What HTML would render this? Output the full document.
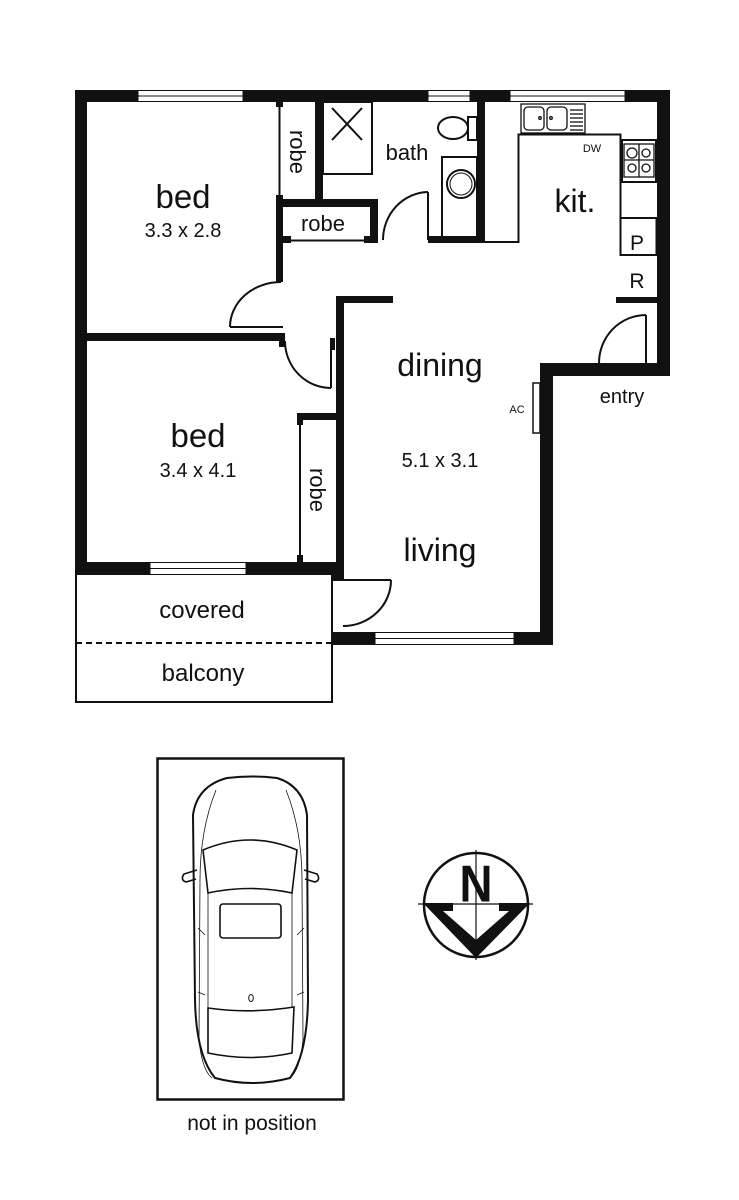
<!DOCTYPE html>
<html><head><meta charset="utf-8"><style>
html,body{margin:0;padding:0;background:#fff;}
svg{display:block;}
text{font-family:"Liberation Sans",Arial,sans-serif;fill:#111;}
</style></head><body>
<svg width="739" height="1200" viewBox="0 0 739 1200" xmlns="http://www.w3.org/2000/svg">
<g fill="#111" stroke="none">
<rect x="75" y="90" width="595" height="12"/>
<rect x="75" y="90" width="12" height="485"/>
<rect x="657" y="90" width="13" height="286"/>
<rect x="540" y="363" width="130" height="13"/>
<rect x="540" y="363" width="13" height="282"/>
<rect x="331" y="632" width="222" height="13"/>
<rect x="75" y="562" width="269" height="13"/>
<rect x="336" y="296" width="8" height="284"/>
<rect x="331" y="575" width="12" height="5"/>
<rect x="336" y="296" width="57" height="7"/>
<rect x="276" y="195" width="7" height="87"/>
<rect x="276" y="102" width="7" height="5"/>
<rect x="87" y="333" width="197" height="8"/>
<rect x="279" y="333" width="6" height="14"/>
<rect x="331" y="338" width="4" height="12"/>
<rect x="315" y="102" width="8" height="103"/>
<rect x="283" y="199" width="95" height="8"/>
<rect x="370" y="199" width="8" height="44"/>
<rect x="283" y="236" width="8" height="7"/>
<rect x="364" y="236" width="14" height="7"/>
<rect x="428" y="236" width="57" height="7"/>
<rect x="477" y="102" width="8" height="141"/>
<rect x="616" y="297" width="41" height="6"/>
<rect x="297" y="413" width="40" height="7"/>
<rect x="297" y="413" width="6" height="12"/>
<rect x="297" y="555" width="6" height="7"/>
</g>
<g fill="#fff" stroke="#111" stroke-width="1">
<rect x="138" y="90.5" width="105" height="11"/>
<rect x="428" y="90.5" width="42" height="11"/>
<rect x="510" y="90.5" width="115" height="11"/>
<rect x="150" y="562.5" width="96" height="12"/>
<rect x="375" y="632.5" width="139" height="12"/>
</g>
<g stroke="#111" stroke-width="1">
<line x1="138" y1="96" x2="243" y2="96"/>
<line x1="428" y1="96" x2="470" y2="96"/>
<line x1="510" y1="96" x2="625" y2="96"/>
<line x1="150" y1="568.5" x2="246" y2="568.5"/>
<line x1="375" y1="638.5" x2="514" y2="638.5"/>
</g>
<g fill="none" stroke="#111" stroke-width="2">
<line x1="279.5" y1="102" x2="279.5" y2="195"/>
<line x1="283" y1="240.5" x2="370" y2="240.5"/>
<line x1="300" y1="420" x2="300" y2="560"/>
<rect x="323" y="102" width="49" height="72"/>
<line x1="332" y1="108" x2="362" y2="140"/>
<line x1="362" y1="108" x2="332" y2="140"/>
<rect x="468" y="117" width="9" height="23"/>
<ellipse cx="453" cy="128" rx="15" ry="11"/>
<rect x="442" y="157" width="35" height="80"/>
<circle cx="461" cy="184" r="14"/>
<circle cx="461" cy="184" r="11" stroke-width="1"/>
<polyline points="485,242 518.5,242 518.5,134.5 620.5,134.5 620.5,218"/>
<rect x="620.5" y="218" width="36" height="37"/>
<rect x="622" y="140" width="34" height="42"/>
<line x1="428" y1="192" x2="428" y2="240"/>
<path d="M428,192 A46,48 0 0 0 383,240"/>
<line x1="230" y1="327" x2="283" y2="327"/>
<path d="M281,282 A51,45 0 0 0 230,327"/>
<line x1="331" y1="338" x2="331" y2="388"/>
<path d="M285,341 A46,47 0 0 0 331,388"/>
<line x1="646" y1="315" x2="646" y2="363"/>
<path d="M646,315 A47,48 0 0 0 599,363"/>
<line x1="332" y1="580" x2="391" y2="580"/>
<path d="M391,580 A48,46 0 0 1 343,626"/>
<polyline points="76,575 76,702 332,702 332,575"/>
<line x1="76" y1="643" x2="332" y2="643" stroke-dasharray="6,4"/>
<rect x="533" y="383" width="7" height="50" stroke-width="1.5"/>
</g>
<g fill="none" stroke="#111" stroke-width="1.3">
<rect x="521" y="104" width="64" height="29"/>
<rect x="524" y="107" width="20" height="23" rx="4"/>
<rect x="547" y="107" width="20" height="23" rx="4"/>
<circle cx="540" cy="118" r="1.3"/><circle cx="551" cy="118" r="1.3"/>
<line x1="570" y1="110" x2="583" y2="110"/><line x1="570" y1="114" x2="583" y2="114"/>
<line x1="570" y1="118" x2="583" y2="118"/><line x1="570" y1="122" x2="583" y2="122"/>
<line x1="570" y1="126" x2="583" y2="126"/><line x1="570" y1="130" x2="583" y2="130"/>
<rect x="624" y="144" width="30" height="33"/>
<circle cx="632" cy="153" r="5"/><circle cx="646" cy="153" r="4"/>
<circle cx="632" cy="168" r="4"/><circle cx="646" cy="168" r="4"/>
<line x1="624" y1="160" x2="654" y2="160"/><line x1="639" y1="144" x2="639" y2="177"/>
</g>
<text x="183" y="208" font-size="33" text-anchor="middle">bed</text>
<text x="183" y="237" font-size="20" text-anchor="middle">3.3 x 2.8</text>
<text x="198" y="447" font-size="33" text-anchor="middle">bed</text>
<text x="198" y="477" font-size="20" text-anchor="middle">3.4 x 4.1</text>
<text x="407" y="160" font-size="22" text-anchor="middle">bath</text>
<text x="323" y="231" font-size="22" text-anchor="middle">robe</text>
<text transform="translate(290,152) rotate(90)" font-size="22" text-anchor="middle">robe</text>
<text transform="translate(310,490) rotate(90)" font-size="22" text-anchor="middle">robe</text>
<text x="575" y="212" font-size="32" text-anchor="middle">kit.</text>
<text x="592" y="152" font-size="11" text-anchor="middle">DW</text>
<text x="637" y="250" font-size="21" text-anchor="middle">P</text>
<text x="637" y="288" font-size="21" text-anchor="middle">R</text>
<text x="440" y="376" font-size="32" text-anchor="middle">dining</text>
<text x="440" y="467" font-size="20" text-anchor="middle">5.1 x 3.1</text>
<text x="440" y="561" font-size="32" text-anchor="middle">living</text>
<text x="517" y="413" font-size="11" text-anchor="middle">AC</text>
<text x="622" y="403" font-size="20" text-anchor="middle">entry</text>
<text x="202" y="618" font-size="24" text-anchor="middle">covered</text>
<text x="203" y="681" font-size="24" text-anchor="middle">balcony</text>
<rect x="157.5" y="758.5" width="186" height="341" fill="none" stroke="#111" stroke-width="2.5"/>
<g fill="none" stroke="#111" stroke-width="2">
<path d="M227,778 Q252,775 277,778 Q303,786 307,815 L308,1000 Q307,1055 290,1078 Q252,1088 215,1078 Q196,1055 195,1000 L193,815 Q197,786 227,778 Z"/>
<path d="M203,850 Q250,830 297,850 L292,893 Q250,884 208,893 Z" stroke-width="1.6"/>
<path d="M208,1008 Q250,1014 294,1007 L292,1053 Q250,1062 208,1053 Z" stroke-width="1.6"/>
<rect x="220" y="904" width="61" height="34" rx="3" stroke-width="1.6"/>
<path d="M197,870 L184,874 Q180,880 186,882 L196,879" stroke-width="1.6"/>
<path d="M304,870 L317,874 Q321,880 315,882 L305,879" stroke-width="1.6"/>
</g>
<g fill="none" stroke="#111" stroke-width="0.8">
<path d="M216,790 Q200,830 200,880 L199,1040 Q202,1070 212,1078"/>
<path d="M286,790 Q302,830 302,880 L303,1040 Q300,1070 290,1078"/>
<line x1="208" y1="893" x2="208" y2="1008"/>
<line x1="292" y1="893" x2="292" y2="1008"/>
<line x1="198" y1="928" x2="205" y2="935"/><line x1="304" y1="928" x2="297" y2="935"/>
<line x1="198" y1="992" x2="205" y2="995"/><line x1="304" y1="992" x2="297" y2="995"/>
</g>
<ellipse cx="251" cy="998" rx="2.3" ry="3.5" fill="none" stroke="#111" stroke-width="1"/>
<text x="252" y="1130" font-size="21" text-anchor="middle">not in position</text>
<ellipse cx="476" cy="905" rx="52" ry="52" fill="none" stroke="#111" stroke-width="2.5"/>
<polygon points="423,903 453,903 453,911 443,911 476,940 509,911 499,911 499,903 530,903 476,958" fill="#111"/>
<line x1="418" y1="904" x2="533" y2="904" stroke="#111" stroke-width="1.2"/>
<line x1="476" y1="850" x2="476" y2="960" stroke="#111" stroke-width="1.2"/>
<text x="476" y="904" font-size="44" font-weight="bold" text-anchor="middle" transform="translate(0,-165) scale(1,1.18)" textLength="33" lengthAdjust="spacingAndGlyphs">N</text>
</svg>
</body></html>
